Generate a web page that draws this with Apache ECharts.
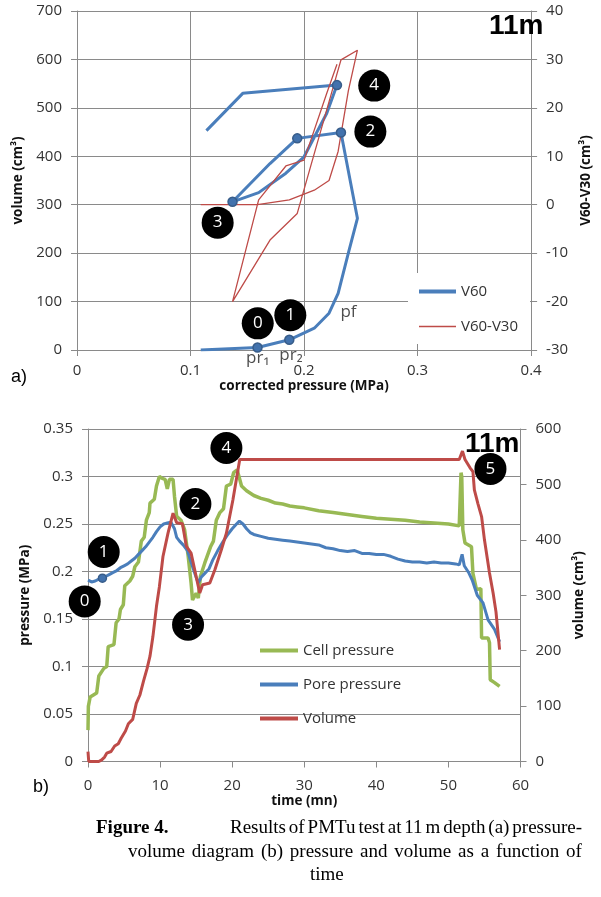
<!DOCTYPE html>
<html><head><meta charset="utf-8">
<script src="https://cdn.jsdelivr.net/npm/echarts@6/dist/echarts.min.js"></script>
<style>
html,body{margin:0;padding:0;background:#fff}
#wrap{position:relative;width:601px;height:897px}
#c{width:601px;height:897px}
#cap{position:absolute;left:96px;top:815px;width:486px;font:19px "Liberation Serif";color:#000;line-height:23.5px}
#cap .l{white-space:nowrap;display:flex;justify-content:space-between}
#cap .l2{padding-left:32px}
#cap .l3{text-align:left;padding-left:214px}
#cap .fig{font-weight:bold;width:134px;flex:none;text-align:left}
</style>
</head><body><div id="wrap"><div id="c"></div>
<div id="cap">
<div class="l"><span class="fig">Figure 4.</span><span style="flex:1;display:flex;justify-content:space-between"><span>Results</span><span>of</span><span>PMTu</span><span>test</span><span>at</span><span>11</span><span>m</span><span>depth</span><span>(a)</span><span>pressure-</span></span></div>
<div class="l l2"><span>volume</span><span>diagram</span><span>(b)</span><span>pressure</span><span>and</span><span>volume</span><span>as</span><span>a</span><span>function</span><span>of</span></div>
<div class="l3">time</div>
</div></div>
<script>
// ---------- (a) pressure-volume diagram ----------
const pvPressure = [0.109,0.159,0.187,0.209,0.222,0.230,0.239,0.247,0.2325,0.194,0.170,0.137,0.160,0.184,0.200,0.220,0.229,0.146,0.114];
const pvV60      = [0,5,21,45,76,117,200,272,449,437,385,306,325,365,399,489,547,530,453];
const pvV60V30   = [0,0,1,3,5,11,23.5,31.9,29.9,-1.8,-7.3,-20,1,8,9.2,23,29,null,null];
const pvMarkerIdx = [1,2,8,9,11,16];
const aXTicks = [0,0.4,0.1];      // min,max,interval
const aYTicks = [0,700,100];
const aY2Ticks = [-30,40,10];
const circA_lbl = ['0','1','2','3','4'];
const circA_x   = [0.1592,0.1879,0.2584,0.1239,0.2618];
const circA_y   = [55,72,451,263,546];
const noteA_txt = ['pf','pr\u2081','pr\u2082'];
const noteA_x   = [0.2391,0.1592,0.1885];
const noteA_y   = [79,-17,-11];

// ---------- (b) pressure & volume vs time ----------
const cellPressure = [[0,0.033],[0.05,0.058],[0.3,0.068],[1.2,0.072],[1.5,0.090],[2.2,0.098],[2.6,0.100],[2.8,0.121],[3.6,0.123],[3.9,0.146],[4.3,0.150],[4.5,0.160],[4.9,0.165],[5.1,0.185],[5.8,0.190],[6.2,0.195],[6.5,0.205],[7.0,0.210],[7.4,0.232],[7.8,0.236],[8.1,0.254],[8.5,0.262],[8.6,0.272],[9.2,0.276],[9.5,0.290],[9.9,0.300],[10.3,0.298],[10.7,0.297],[11.0,0.287],[11.3,0.297],[11.8,0.297],[12.0,0.279],[12.3,0.258],[12.9,0.254],[13.4,0.244],[13.9,0.216],[14.3,0.188],[14.5,0.170],[15.0,0.177],[15.3,0.172],[15.6,0.195],[16.2,0.209],[17.0,0.226],[17.4,0.232],[17.8,0.254],[18.3,0.262],[18.8,0.266],[19.2,0.290],[19.8,0.292],[20.2,0.304],[20.7,0.307],[21.3,0.290],[22,0.285],[23,0.280],[24,0.277],[25,0.275],[26,0.272],[27,0.271],[28,0.269],[29,0.268],[30,0.267],[32,0.264],[34,0.262],[36,0.260],[38,0.258],[40,0.256],[42,0.255],[44,0.254],[46,0.252],[48,0.251],[50,0.250],[51.5,0.248],[51.75,0.304],[51.85,0.300],[52.0,0.244],[52.3,0.230],[53.2,0.226],[53.4,0.198],[53.9,0.181],[54.5,0.182],[54.6,0.130],[55.5,0.130],[55.7,0.125],[55.8,0.086],[56.4,0.083],[57.1,0.079]];
const porePressure = [[0,0.191],[0.5,0.189],[1,0.190],[1.5,0.192],[2,0.193],[2.5,0.195],[3,0.197],[3.5,0.199],[4,0.201],[4.5,0.204],[5,0.206],[5.5,0.208],[6,0.211],[6.5,0.214],[7,0.218],[7.5,0.222],[8,0.226],[8.5,0.231],[9,0.236],[9.5,0.242],[10,0.247],[10.5,0.250],[11,0.251],[11.5,0.252],[12,0.245],[12.3,0.236],[12.7,0.232],[13.2,0.228],[13.8,0.222],[14.2,0.212],[14.6,0.203],[15,0.194],[15.3,0.188],[15.7,0.194],[16.2,0.198],[16.8,0.203],[17.3,0.212],[18,0.222],[18.7,0.231],[19.3,0.238],[20,0.245],[20.6,0.250],[21,0.253],[21.5,0.250],[22,0.245],[22.5,0.241],[23,0.239],[24,0.237],[25,0.235],[26,0.234],[27,0.233],[28,0.232],[29,0.231],[30,0.230],[31,0.229],[32,0.228],[33,0.225],[34,0.224],[35,0.222],[36,0.221],[37,0.222],[38,0.219],[39,0.219],[40,0.218],[41,0.218],[42,0.216],[43,0.213],[44,0.211],[45,0.210],[46,0.210],[47,0.209],[48,0.210],[49,0.209],[50,0.209],[51,0.208],[51.5,0.207],[51.9,0.218],[52.2,0.206],[52.8,0.199],[53.3,0.191],[54,0.175],[54.8,0.167],[55.5,0.149],[56.4,0.139],[57.1,0.126]];
const volume = [[0,18],[0.1,0],[1.5,0],[1.9,3],[2.3,8],[2.6,15],[3.2,18],[3.7,28],[4.2,32],[4.6,42],[5.2,55],[5.6,68],[6.2,76],[6.7,105],[7.2,120],[7.7,145],[8.2,168],[8.6,190],[9.0,225],[9.5,280],[9.9,315],[10.4,370],[11.1,412],[11.8,448],[12.3,431],[13.1,429],[13.65,388],[14.3,376],[15.5,304],[15.9,319],[16.9,322],[17.6,346],[18.5,382],[19.2,412],[20.1,472],[21.05,545],[30,545],[40,545],[51.5,545],[51.95,560],[52.3,545],[53.0,530],[53.4,523],[53.6,490],[54.1,465],[54.6,442],[55.0,400],[55.7,340],[56.2,304],[56.6,270],[57.1,202]];
const poreMarkerIdx = [4];
const bXTicks = [0,60,10];
const bYTicks = [0,0.35,0.05];
const bY2Ticks = [0,600,100];
const circB_lbl = ['0','1','2','3','4','5'];
const circB_t   = [-0.46,2.18,14.9,13.88,19.2,55.83];
const circB_p   = [0.1685,0.2205,0.271,0.144,0.33,0.308];

// ---------- styles ----------
const BLUE='#4a7ebb', RED='#be4b48', GREEN='#98b954', GRID='#8a8a8a';
const TICKFONT={fontFamily:'Open Sans',fontSize:15,color:'#333'};
const NAMEFONT={fontFamily:'Open Sans',fontSize:13.5,fontWeight:'bold',color:'#111'};

function axisBase(extra){
  return Object.assign({
    type:'value',
    axisLine:{show:true,lineStyle:{color:GRID,width:1}},
    axisTick:{show:true,inside:false,length:6,lineStyle:{color:GRID}},
    axisLabel:Object.assign({margin:15},TICKFONT),
    splitLine:{show:false,lineStyle:{color:GRID,width:1}},
    nameLocation:'middle',
    nameTextStyle:NAMEFONT
  },extra);
}
function circles(lbl,xs,ys,xi,yi){
  return {type:'scatter',xAxisIndex:xi,yAxisIndex:yi,symbolSize:32,clip:false,silent:true,z:20,
    itemStyle:{color:'#000',opacity:1},
    label:{show:true,position:'inside',formatter:'{b}',color:'#fff',fontSize:17,fontFamily:'Open Sans'},
    data:xs.map((x,i)=>({value:[x,ys[i]],name:lbl[i]}))};
}
const LEGEND_ITEM={color:'rgba(0,0,0,0)',borderWidth:0,opacity:0};

const chart = echarts.init(document.getElementById('c'),null,{renderer:'canvas'});
chart.setOption({
  animation:false,
  backgroundColor:'#fff',
  grid:[
    {left:77,top:11,width:463,height:339},
    {left:88,top:429,width:432.5,height:332.5}
  ],
  xAxis:[
    axisBase({gridIndex:0,min:aXTicks[0],max:aXTicks[1],interval:aXTicks[2],
      splitLine:{show:true,lineStyle:{color:GRID}},
      axisLabel:Object.assign({margin:13},TICKFONT),
      name:'corrected pressure (MPa)',nameGap:27}),
    axisBase({gridIndex:1,min:bXTicks[0],max:bXTicks[1],interval:bXTicks[2],
      axisLabel:Object.assign({margin:17},TICKFONT),
      name:'time (mn)',nameGap:26})
  ],
  yAxis:[
    axisBase({gridIndex:0,min:aYTicks[0],max:aYTicks[1],interval:aYTicks[2],
      splitLine:{show:true,lineStyle:{color:GRID}},
      name:'volume (cm\u00b3)',nameGap:46}),
    axisBase({gridIndex:0,position:'right',min:aY2Ticks[0],max:aY2Ticks[1],interval:aY2Ticks[2],
      name:'V60-V30 (cm\u00b3)',nameGap:43,nameRotate:90}),
    axisBase({gridIndex:1,min:bYTicks[0],max:bYTicks[1],interval:bYTicks[2],
      splitLine:{show:true,lineStyle:{color:GRID}},
      name:'pressure (MPa)',nameGap:45}),
    axisBase({gridIndex:1,position:'right',min:bY2Ticks[0],max:bY2Ticks[1],interval:bY2Ticks[2],
      name:'volume (cm\u00b3)',nameGap:50,nameRotate:90})
  ],
  legend:[
    {data:[{name:'V60',lineStyle:{width:4}},{name:'V60-V30',lineStyle:{width:1.5}}],
     orient:'vertical',left:408,top:273,
     padding:[11,12,10,9],itemWidth:37,itemHeight:14,itemGap:20,itemStyle:LEGEND_ITEM,
     backgroundColor:'#fff',textStyle:{fontFamily:'Open Sans',fontSize:15,color:'#333',lineHeight:14}},
    {data:[{name:'Cell pressure',lineStyle:{width:4}},{name:'Pore pressure',lineStyle:{width:4}},{name:'Volume',lineStyle:{width:4}}],
     orient:'vertical',left:258,top:643,
     padding:0,itemWidth:38,itemHeight:14,itemGap:19,itemStyle:LEGEND_ITEM,
     textStyle:{fontFamily:'Open Sans',fontSize:15,color:'#333',lineHeight:14}}
  ],
  series:[
    {name:'V60',type:'line',xAxisIndex:0,yAxisIndex:0,symbol:'none',
     lineStyle:{color:BLUE,width:3},itemStyle:{color:BLUE},
     data:pvPressure.map((x,i)=>[x,pvV60[i]])},
    {type:'scatter',xAxisIndex:0,yAxisIndex:0,symbolSize:9,silent:true,z:3,
     itemStyle:{color:'#4272ad',borderColor:'#385d8a',borderWidth:1.5,opacity:1},
     data:pvMarkerIdx.map(i=>[pvPressure[i],pvV60[i]])},
    {name:'V60-V30',type:'line',xAxisIndex:0,yAxisIndex:1,symbol:'none',connectNulls:false,
     lineStyle:{color:RED,width:1.3},itemStyle:{color:RED},
     data:pvPressure.map((x,i)=>[x,pvV60V30[i]])},
    circles(circA_lbl,circA_x,circA_y,0,0),
    {type:'scatter',xAxisIndex:0,yAxisIndex:0,symbolSize:1,clip:false,silent:true,z:20,
     itemStyle:{color:'rgba(0,0,0,0)'},
     label:{show:true,position:'inside',formatter:'{b}',color:'#222',fontSize:17,fontFamily:'Open Sans'},
     data:noteA_x.map((x,i)=>({value:[x,noteA_y[i]],name:noteA_txt[i]}))},

    {name:'Cell pressure',type:'line',xAxisIndex:1,yAxisIndex:2,symbol:'none',
     lineStyle:{color:GREEN,width:3.5},itemStyle:{color:GREEN},data:cellPressure},
    {name:'Pore pressure',type:'line',xAxisIndex:1,yAxisIndex:2,symbol:'none',
     lineStyle:{color:BLUE,width:3},itemStyle:{color:BLUE},data:porePressure},
    {type:'scatter',xAxisIndex:1,yAxisIndex:2,symbolSize:8,silent:true,z:3,
     itemStyle:{color:'#4272ad',borderColor:'#385d8a',borderWidth:1.5,opacity:1},
     data:poreMarkerIdx.map(i=>porePressure[i])},
    {name:'Volume',type:'line',xAxisIndex:1,yAxisIndex:3,symbol:'none',
     lineStyle:{color:RED,width:3},itemStyle:{color:RED},data:volume},
    circles(circB_lbl,circB_t,circB_p,1,2)
  ],
  graphic:[
    {type:'text',left:489,top:12,z:30,style:{text:'11m',font:'bold 28px "Liberation Sans"',fill:'#000'}},
    {type:'text',left:465,top:430,z:30,style:{text:'11m',font:'bold 28px "Liberation Sans"',fill:'#000'}},
    {type:'text',left:11,top:368,style:{text:'a)',font:'18px "Liberation Sans"',fill:'#000'}},
    {type:'text',left:33,top:778,style:{text:'b)',font:'18px "Liberation Sans"',fill:'#000'}}
  ]
});
</script></body></html>
